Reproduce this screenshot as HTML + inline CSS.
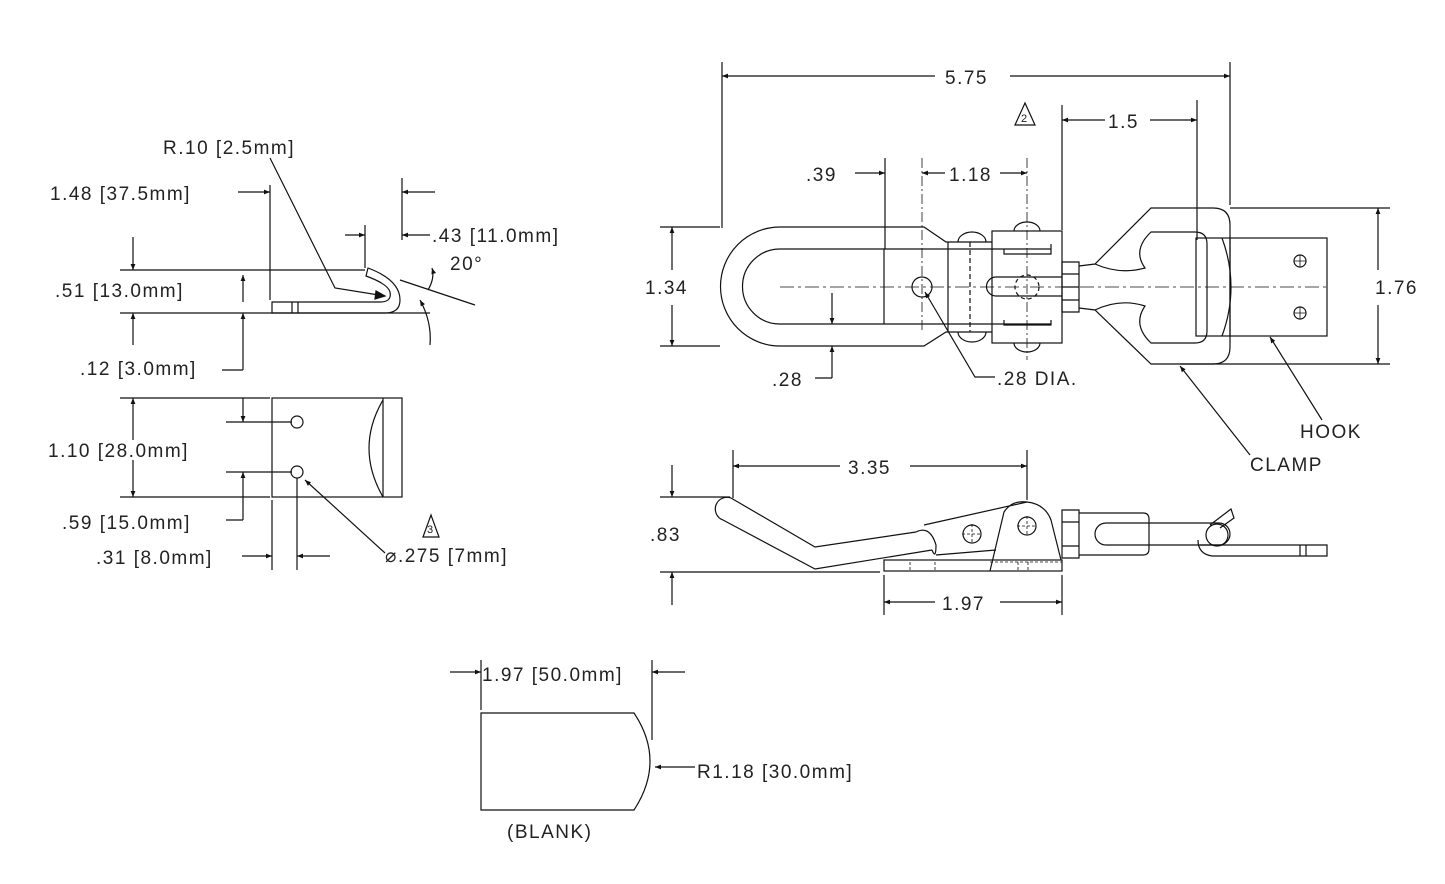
<!DOCTYPE html>
<html><head><meta charset="utf-8"><style>
html,body{margin:0;padding:0;background:#fff}
svg{display:block}
text{font-family:"Liberation Sans",sans-serif;font-size:19px;fill:#222;letter-spacing:1.5px}
</style></head><body>
<svg width="1445" height="884" viewBox="0 0 1445 884" xmlns="http://www.w3.org/2000/svg">
<defs>
<marker id="a" viewBox="0 0 10 10" refX="10" refY="5" markerWidth="12" markerHeight="6" orient="auto-start-reverse" markerUnits="userSpaceOnUse"><path d="M0,1 L10,5 L0,9 z" fill="#111"/></marker>
</defs>
<g stroke="#111" stroke-width="1.2" fill="none">
<!-- ===== TOP-LEFT profile ===== -->
<line x1="120" y1="270" x2="365" y2="270"/>
<line x1="120" y1="313" x2="430" y2="313"/>
<line x1="270" y1="185" x2="270" y2="300"/>
<line x1="402" y1="178" x2="402" y2="240"/>
<line x1="365" y1="225" x2="365" y2="268"/>
<line x1="238" y1="192" x2="270" y2="192" marker-end="url(#a)"/>
<line x1="435" y1="192" x2="402" y2="192" marker-end="url(#a)"/>
<line x1="345" y1="235" x2="365" y2="235" marker-end="url(#a)"/>
<line x1="430" y1="235" x2="402" y2="235" marker-end="url(#a)"/>
<path d="M272,302 L380,302 Q392,302 390,292 Q388,284 366,276 L368,268 Q400,280 400,300 Q400,313 385,313 L272,313 Z"/>
<line x1="292" y1="302" x2="292" y2="313"/><line x1="298" y1="302" x2="298" y2="313"/>
<path d="M270,158 L335,288 L385,296" /><path d="M385,296 l-9,-5 l-1,8 z" fill="#111"/>
<line x1="133" y1="237" x2="133" y2="270" marker-end="url(#a)"/>
<line x1="133" y1="345" x2="133" y2="313" marker-end="url(#a)"/>
<line x1="243" y1="275" x2="243" y2="302" marker-start="url(#a)"/>
<line x1="243" y1="370" x2="243" y2="313" marker-end="url(#a)"/>
<line x1="222" y1="370" x2="243" y2="370"/>
<line x1="400" y1="280" x2="475" y2="305"/>
<path d="M420,300 Q432,322 430,345" marker-start="url(#a)"/>
<path d="M428,290 Q435,278 432,268" marker-end="url(#a)"/>
<!-- plate view -->
<rect x="272" y="398" width="130" height="99"/>
<path d="M383,400 Q355,448 383,497"/>
<line x1="383" y1="398" x2="383" y2="497"/>
<circle cx="297" cy="422" r="6"/><circle cx="297" cy="472" r="6"/>
<line x1="120" y1="398" x2="270" y2="398"/><line x1="120" y1="497" x2="270" y2="497"/>
<line x1="133" y1="440" x2="133" y2="398" marker-end="url(#a)"/>
<line x1="133" y1="460" x2="133" y2="497" marker-end="url(#a)"/>
<line x1="243" y1="398" x2="243" y2="422" marker-end="url(#a)"/>
<line x1="226" y1="422" x2="292" y2="422"/>
<line x1="226" y1="472" x2="292" y2="472"/>
<line x1="243" y1="520" x2="243" y2="472" marker-end="url(#a)"/>
<line x1="226" y1="520" x2="243" y2="520"/>
<line x1="272" y1="500" x2="272" y2="570"/><line x1="297" y1="478" x2="297" y2="570"/>
<line x1="242" y1="556" x2="272" y2="556" marker-end="url(#a)"/>
<line x1="330" y1="556" x2="297" y2="556" marker-end="url(#a)"/>
<line x1="385" y1="553" x2="305" y2="480" marker-end="url(#a)"/>
<path d="M423,537 L431,515 L439,537 Z"/>
<!-- blank -->
<path d="M481,713 L634,713 Q666,761 634,810 L481,810 Z"/>
<line x1="481" y1="660" x2="481" y2="710"/><line x1="652" y1="660" x2="652" y2="740"/>
<line x1="450" y1="672" x2="481" y2="672" marker-end="url(#a)"/>
<line x1="685" y1="672" x2="652" y2="672" marker-end="url(#a)"/>
<line x1="695" y1="767" x2="655" y2="767" marker-end="url(#a)"/>
<!-- ===== RIGHT top view dims ===== -->
<line x1="722" y1="62" x2="722" y2="228"/><line x1="1230" y1="62" x2="1230" y2="205"/>
<line x1="935" y1="76" x2="722" y2="76" marker-end="url(#a)"/>
<line x1="1010" y1="76" x2="1230" y2="76" marker-end="url(#a)"/>
<path d="M1015,125 L1025,103 L1035,125 Z"/>
<line x1="1062" y1="105" x2="1062" y2="230"/><line x1="1197" y1="100" x2="1197" y2="240"/>
<line x1="1105" y1="120" x2="1062" y2="120" marker-end="url(#a)"/>
<line x1="1150" y1="120" x2="1197" y2="120" marker-end="url(#a)"/>
<line x1="885" y1="158" x2="885" y2="249"/><line x1="922" y1="158" x2="922" y2="330" stroke-dasharray="10,3,2,3" stroke-width="0.8"/><line x1="1027" y1="158" x2="1027" y2="360" stroke-dasharray="10,3,2,3" stroke-width="0.8"/>
<line x1="855" y1="173" x2="885" y2="173" marker-end="url(#a)"/>
<line x1="945" y1="173" x2="922" y2="173" marker-end="url(#a)"/>
<line x1="1000" y1="173" x2="1027" y2="173" marker-end="url(#a)"/>
<line x1="660" y1="227" x2="720" y2="227"/><line x1="660" y1="346" x2="720" y2="346"/>
<line x1="672" y1="270" x2="672" y2="227" marker-end="url(#a)"/>
<line x1="672" y1="305" x2="672" y2="346" marker-end="url(#a)"/>
<line x1="1230" y1="208" x2="1390" y2="208"/><line x1="1180" y1="364" x2="1390" y2="364"/>
<line x1="1378" y1="270" x2="1378" y2="208" marker-end="url(#a)"/>
<line x1="1378" y1="305" x2="1378" y2="364" marker-end="url(#a)"/>
<line x1="832" y1="293" x2="832" y2="324" marker-end="url(#a)"/>
<line x1="832" y1="378" x2="832" y2="346" marker-end="url(#a)"/>
<line x1="815" y1="378" x2="832" y2="378"/>
<path d="M995,377 L975,377 L925,292" marker-end="url(#a)"/>
<line x1="1322" y1="420" x2="1270" y2="337" marker-end="url(#a)"/>
<line x1="1250" y1="455" x2="1180" y2="366" marker-end="url(#a)"/>
<!-- handle -->
<path d="M780,227 L924,227 L946,242 L992,242 M992,332 L946,332 L924,346 L780,346 A59.5,59.5 0 0 1 780,227"/>
<path d="M780,249 L1051,249 M1051,324 L780,324 A37.5,37.5 0 0 1 780,249"/>
<line x1="884" y1="249" x2="884" y2="324"/>
<line x1="948" y1="242" x2="948" y2="332"/>
<line x1="970" y1="242" x2="970" y2="332" stroke-dasharray="5,3"/>
<circle cx="922" cy="287" r="10"/>
<path d="M958,242 A14,10 0 0 1 986,242"/><path d="M958,332 A14,10 0 0 0 986,332"/>
<rect x="992" y="231" width="70" height="112"/>
<path d="M1004,249 L1004,254 L1051,254 L1051,244 M1004,320 L1004,325 L1051,325 L1051,320"/>
<path d="M1014,231 A13,9 0 0 1 1040,231"/><path d="M1014,343 A13,9 0 0 0 1040,343"/>
<path d="M1062,277 L996,277 A9.5,9.5 0 0 0 996,296 L1062,296"/>
<circle cx="1027" cy="287" r="12" stroke-dasharray="4,3"/>
<path d="M1062,262 L1079,262 L1079,312 L1062,312 Z M1062,274 L1079,274 M1062,287 L1079,287 M1062,300 L1079,300"/>
<path d="M1079,266 L1095,264 L1151,208 L1213,208 Q1230,208 1230,225 L1230,347 Q1230,364 1213,364 L1151,364 L1095,310 L1079,308"/>
<path d="M1095,264 Q1120,275 1145,268 Q1132,250 1151,232 L1195,232 Q1207,232 1207,244 L1207,331 Q1207,343 1195,343 L1151,343 Q1132,325 1145,306 Q1120,298 1095,310"/>
<rect x="1196" y="238" width="131" height="98"/>
<line x1="1230" y1="238" x2="1230" y2="336"/>
<path d="M1222,238 Q1240,287 1222,336"/>
<circle cx="1300" cy="261" r="6"/><circle cx="1300" cy="313" r="6"/>
<path d="M1294,261 h12 M1300,255 v12 M1294,313 h12 M1300,307 v12" stroke-width="0.8"/>
<line x1="780" y1="287" x2="1330" y2="287" stroke-dasharray="14,4,3,4" stroke-width="0.8"/>
<!-- side view -->
<line x1="733" y1="450" x2="733" y2="498"/><line x1="1027" y1="450" x2="1027" y2="500"/>
<line x1="840" y1="466" x2="733" y2="466" marker-end="url(#a)"/>
<line x1="910" y1="466" x2="1027" y2="466" marker-end="url(#a)"/>
<line x1="660" y1="497" x2="730" y2="497"/><line x1="660" y1="572" x2="880" y2="572"/>
<line x1="672" y1="465" x2="672" y2="497" marker-end="url(#a)"/>
<line x1="672" y1="605" x2="672" y2="572" marker-end="url(#a)"/>
<line x1="884" y1="575" x2="884" y2="615"/><line x1="1062" y1="575" x2="1062" y2="615"/>
<line x1="935" y1="602" x2="884" y2="602" marker-end="url(#a)"/>
<line x1="1000" y1="602" x2="1062" y2="602" marker-end="url(#a)"/>
<path d="M731,498 L815,547 L916,532 M723,520 L815,569 L932,550"/>
<path d="M731,498 A11,11 0 0 0 723,520"/>
<path d="M916,532 Q930,525 936,545 Q936,560 932,550"/>
<path d="M924,525 L1027,502 M936,555 L996,550"/>
<circle cx="972" cy="534" r="9"/><path d="M962,534 h20 M972,524 v20" stroke-dasharray="3,2" stroke-width="0.8"/>
<path d="M990,571 L1004,512 Q1012,500 1027,502 Q1045,504 1051,520 L1061,560"/>
<circle cx="1027" cy="526" r="9"/><path d="M1017,526 h20 M1027,516 v20" stroke-dasharray="3,2" stroke-width="0.8"/>
<rect x="884" y="560" width="178" height="11"/>
<path d="M910,562 v9 M935,562 v9 M1018,562 v9 M1028,562 v9 M990,562 L1062,562" stroke-dasharray="3,2" stroke-width="0.8"/>
<path d="M1062,510 L1079,510 L1079,558 L1062,558 Z M1062,522 L1079,522 M1062,546 L1079,546"/>
<path d="M1079,513 L1143,513 Q1149,513 1149,519 L1149,549 Q1149,555 1143,555 L1079,555"/>
<rect x="1095" y="523" width="135" height="22" rx="11"/>
<circle cx="1217" cy="535" r="11"/>
<path d="M1210,525 L1231,509 L1234,518 L1220,528"/>
<path d="M1200,545 L1327,545 L1327,556 L1212,556 Q1198,554 1198,540"/>
<line x1="1300" y1="545" x2="1300" y2="556"/><line x1="1306" y1="545" x2="1306" y2="556"/>
</g>
<g>
<text x="163" y="154">R.10 [2.5mm]</text>
<text x="50" y="200">1.48 [37.5mm]</text>
<text x="432" y="242">.43 [11.0mm]</text>
<text x="450" y="270">20°</text>
<text x="55" y="297">.51 [13.0mm]</text>
<text x="80" y="375">.12 [3.0mm]</text>
<text x="48" y="457">1.10 [28.0mm]</text>
<text x="62" y="529">.59 [15.0mm]</text>
<text x="96" y="564">.31 [8.0mm]</text>
<text x="385" y="562">⌀.275 [7mm]</text>
<text x="427" y="533" style="font-size:11px;letter-spacing:0">3</text>
<text x="482" y="681">1.97 [50.0mm]</text>
<text x="697" y="778">R1.18 [30.0mm]</text>
<text x="507" y="838">(BLANK)</text>
<text x="945" y="84">5.75</text>
<text x="1021" y="122" style="font-size:11px;letter-spacing:0">2</text>
<text x="1108" y="128">1.5</text>
<text x="806" y="181">.39</text>
<text x="949" y="181">1.18</text>
<text x="645" y="294">1.34</text>
<text x="1375" y="294">1.76</text>
<text x="772" y="386">.28</text>
<text x="997" y="385">.28 DIA.</text>
<text x="1300" y="438">HOOK</text>
<text x="1250" y="471">CLAMP</text>
<text x="848" y="474">3.35</text>
<text x="650" y="541">.83</text>
<text x="942" y="610">1.97</text>
</g>
</svg>
</body></html>
